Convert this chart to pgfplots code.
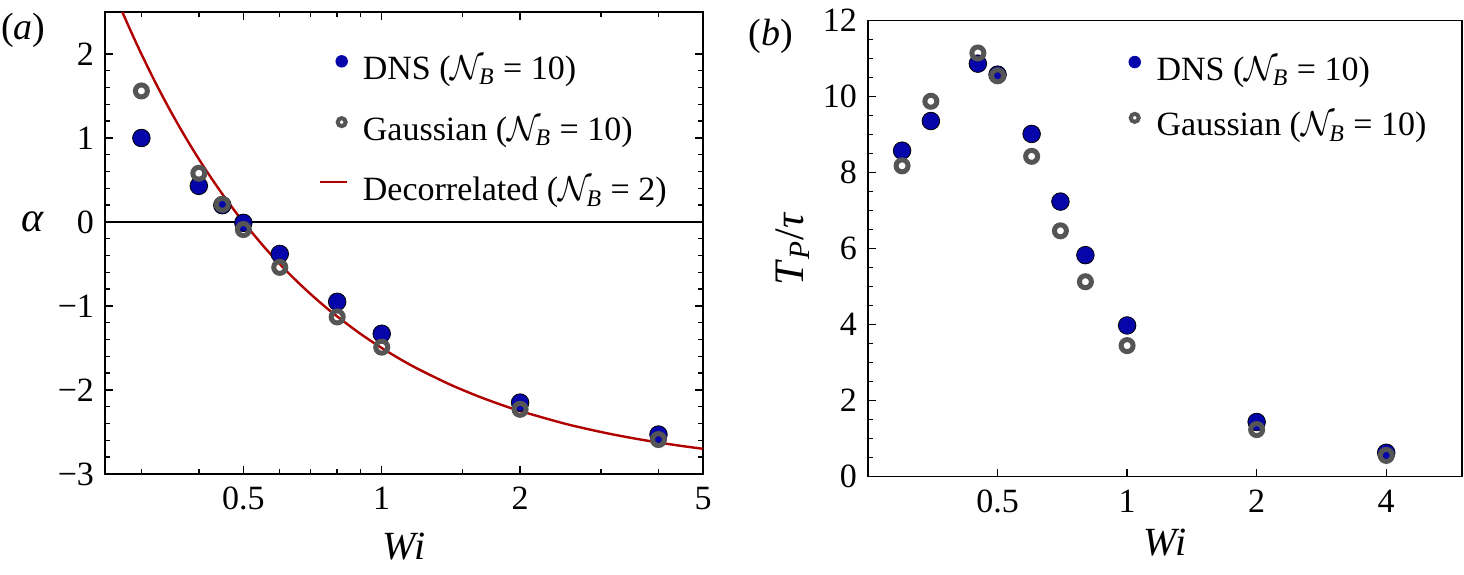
\documentclass[border=0pt]{standalone}
\usepackage{fontspec}
\setmainfont{Liberation Serif}
\usepackage{amsmath}
\usepackage{graphicx}
\usepackage{pgfplots}
\pgfplotsset{compat=1.18}
\definecolor{dnsblue}{RGB}{5,5,170}
\definecolor{gaugray}{RGB}{85,85,85}
\definecolor{decred}{RGB}{176,0,0}
\newcommand{\NB}{\ensuremath{\mathcal{N}_{\text{\itshape B}}}}

\pgfplotstableread{
x y
0.30 1.00
0.40 0.43
0.45 0.20
0.50 -0.01
0.60 -0.38
0.80 -0.95
1.00 -1.33
2.00 -2.15
4.00 -2.53
}\dnsA
\pgfplotstableread{
x y
0.30 1.56
0.40 0.58
0.45 0.21
0.50 -0.09
0.60 -0.54
0.80 -1.13
1.00 -1.49
2.00 -2.23
4.00 -2.59
}\gauA
\pgfplotstableread{
x y
0.30 8.58
0.35 9.36
0.45 10.87
0.50 10.58
0.60 9.02
0.70 7.24
0.80 5.83
1.00 3.98
2.00 1.44
4.00 0.63
}\dnsB
\pgfplotstableread{
x y
0.30 8.18
0.35 9.88
0.45 11.15
0.50 10.55
0.60 8.43
0.70 6.47
0.80 5.13
1.00 3.45
2.00 1.24
4.00 0.56
}\gauB

\pgfplotsset{
  myaxis/.style={
    scale only axis,
    font=\fontsize{17}{20}\selectfont,
    axis line style={black, line width=0.8pt},
    major tick length=4pt, minor tick length=2.5pt,
    tick style={black, line width=0.7pt},
    xticklabel style={yshift=-3pt},
    yticklabel style={xshift=-2pt},
    clip=false,
    legend cell align=left,
  },
  dnsmark/.style={only marks, mark=*, mark size=4.4pt, mark options={draw=none, fill=dnsblue},
    legend image code/.code={\path[draw=none,fill=none] (0pt,-4pt) rectangle (14pt,12pt); \fill[dnsblue] (11pt,5pt) circle (2.9pt);}},
  gaumark/.style={only marks, mark=o, mark size=3pt, mark options={draw=gaugray, line width=2.5pt, fill=none},
    legend image code/.code={\path[draw=none,fill=none] (0pt,-4pt) rectangle (14pt,12pt); \draw[gaugray, fill=none, line width=2pt] (11pt,5pt) circle (2pt);}},
}

\begin{document}
\begin{tikzpicture}[x=1pt,y=1pt]
\useasboundingbox (0,0) rectangle (732,287);

\node[font=\fontsize{19}{22}\selectfont] at (11.7,271.7) {(\textit{a})};
\node[font=\fontsize{19}{22}\selectfont] at (385.5,269) {(\textit{b})};

\begin{axis}[myaxis,
  at={(52.5pt,50pt)}, anchor=south west, width=299pt, height=231pt,
  xmode=log, xmin=0.25, xmax=5, ymin=-3, ymax=2.5,
  xtick={0.5,1,2,5}, xticklabels={0.5,1,2,5},
  minor xtick={0.3,0.4,0.6,0.7,0.8,0.9,1.5,3,4},
  ytick={-3,-2,-1,0,1,2}, yticklabels={−3,−2,−1,0,1,2},
  minor y tick num=4,
  xlabel={\textit{Wi}},
  every axis x label/.style={at={(rel axis cs:0.5,0)}, anchor=center, yshift=-36.5pt, font=\fontsize{20}{24}\selectfont},
  ylabel={\textit{α}},
  every axis y label/.style={at={(rel axis cs:0,0.5455)}, anchor=center, xshift=-36pt, font=\fontsize{21}{24}\selectfont},
  legend style={at={(rel axis cs:0.357,0.9235)}, anchor=north west, draw=none, fill=none,
    inner sep=0pt, outer sep=0pt, row sep=10.4pt, column sep=7.5pt,
    font=\fontsize{17}{20}\selectfont,
    nodes={inner sep=0pt, text height=12pt, text depth=4pt}},
]
\addplot[black, line width=0.9pt, forget plot] coordinates {(0.25,0) (5,0)};
\addplot[dnsmark] table[x=x,y=y] {\dnsA};
\addlegendentry{DNS (\NB{} = 10)}
\addplot[gaumark] table[x=x,y=y] {\gauA};
\addlegendentry{Gaussian (\NB{} = 10)}
\addplot[decred, line width=1.2pt, smooth,
  legend image code/.code={\path[draw=none,fill=none] (0pt,-4pt) rectangle (14pt,12pt); \draw[decred, line width=1.2pt] (0pt,5.5pt) -- (13.5pt,5.5pt);}]
  coordinates {
  (0.2727,2.5) (0.28,2.357) (0.29,2.1724) (0.30,2.0) (0.32,1.6875) (0.34,1.4118)
  (0.36,1.1667) (0.38,0.9474) (0.40,0.75) (0.42,0.5714) (0.45,0.3333) (0.48,0.125)
  (0.50,0) (0.55,-0.2727) (0.60,-0.5) (0.65,-0.6923) (0.70,-0.8571) (0.75,-1.0)
  (0.80,-1.125) (0.90,-1.3333) (1.0,-1.5) (1.1,-1.6364) (1.2,-1.75) (1.4,-1.9286)
  (1.6,-2.0625) (1.8,-2.1667) (2.0,-2.25) (2.5,-2.4) (3.0,-2.5) (3.5,-2.5714)
  (4.0,-2.625) (4.5,-2.6667) (5.0,-2.7)};
\addlegendentry{Decorrelated (\NB{} = 2)}
\end{axis}

\begin{axis}[myaxis,
  at={(434pt,48.65pt)}, anchor=south west, width=297pt, height=228pt,
  xmode=log, xmin=0.25, xmax=6, ymin=0, ymax=12,
  xtick={0.5,1,2,4}, xticklabels={0.5,1,2,4},
  minor xtick={},
  ytick={0,2,4,6,8,10,12}, yticklabels={0,2,4,6,8,10,12},
  minor y tick num=3,
  tick pos=left,
  xlabel={\textit{Wi}},
  every axis x label/.style={at={(rel axis cs:0.5,0)}, anchor=center, yshift=-33pt, font=\fontsize{20}{24}\selectfont},
  ylabel={\rotatebox{90}{\textit{T}\textsubscript{\textit{P}}/\textit{τ}}},
  every axis y label/.style={at={(rel axis cs:0,0.5)}, anchor=center, xshift=-37.5pt, font=\fontsize{21}{24}\selectfont},
  legend style={at={(rel axis cs:0.412,0.94)}, anchor=north west, draw=none, fill=none,
    inner sep=0pt, outer sep=0pt, row sep=7.9pt, column sep=7.85pt,
    font=\fontsize{17}{20}\selectfont,
    nodes={inner sep=0pt, text height=12pt, text depth=4pt}},
]
\addplot[dnsmark] table[x=x,y=y] {\dnsB};
\addlegendentry{DNS (\NB{} = 10)}
\addplot[gaumark] table[x=x,y=y] {\gauB};
\addlegendentry{Gaussian (\NB{} = 10)}
\end{axis}
\end{tikzpicture}
\end{document}
